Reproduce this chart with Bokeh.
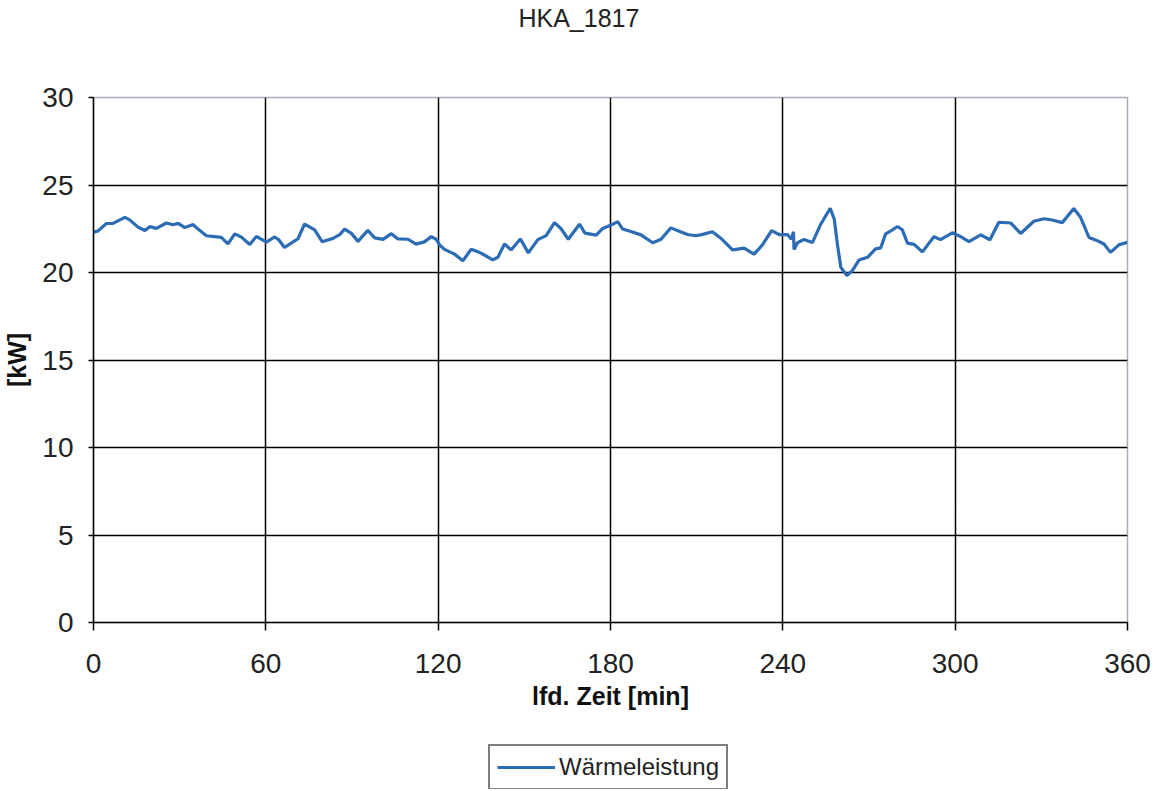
from bokeh.plotting import figure
from bokeh.models import Range1d, FixedTicker, Legend, LegendItem, LinearAxis, Spacer
from bokeh.layouts import column, row
from bokeh.embed import file_html
from bokeh.resources import INLINE

# ---- data ----
time_min = [0, 1.6, 4.5, 6.8, 10.9, 12.6, 15.5, 17.9, 19.6, 21.9, 25.4, 27.7, 29.5, 31.8, 34.7, 36.4,
            39.3, 42.2, 44.5, 46.8, 49.2, 51.5, 54.4, 56.7, 60.2, 63.1, 64.5, 66.5, 69.5, 71.2, 73.5,
            77.0, 79.6, 83.4, 85.7, 87.4, 89.7, 92.1, 95.5, 97.9, 100.8, 103.7, 106.0, 109.5, 112.3,
            115.2, 117.6, 119.3, 120.5, 122.2, 125.7, 128.6, 131.5, 133.8, 136.1, 139.0, 140.8, 143.1,
            145.4, 148.6, 151.4, 154.7, 157.6, 160.5, 162.8, 165.3, 169.2, 171.1, 175.0, 177.3, 180.2,
            182.5, 184.2, 187.1, 190.6, 194.7, 197.6, 201.0, 203.9, 206.8, 209.7, 212.1, 215.5, 218.4,
            222.5, 226.5, 230.0, 232.9, 236.1, 238.7, 241.6, 243.0, 243.7, 243.9, 245.1, 247.4, 250.3,
            253.2, 256.5, 257.9, 259.0, 260.2, 262.3, 264.2, 266.5, 269.5, 272.3, 274.1, 275.8, 278.2,
            279.9, 281.6, 283.4, 285.7, 288.6, 292.6, 294.9, 299.0, 301.9, 304.8, 308.9, 312.1, 315.2,
            319.3, 322.8, 327.4, 330.9, 333.8, 337.3, 341.3, 343.7, 346.6, 349.5, 351.8, 354.1, 357.0,
            360.0]
waermeleistung_kw = [22.3, 22.38, 22.8, 22.81, 23.15, 23.01, 22.59, 22.4, 22.62, 22.52, 22.83, 22.73,
                     22.81, 22.57, 22.74, 22.48, 22.1, 22.05, 22.01, 21.63, 22.21, 22.02, 21.6, 22.06,
                     21.74, 22.03, 21.87, 21.43, 21.75, 21.93, 22.77, 22.43, 21.76, 21.95, 22.16, 22.48,
                     22.25, 21.78, 22.41, 21.98, 21.89, 22.22, 21.92, 21.9, 21.62, 21.75, 22.05, 21.9,
                     21.57, 21.32, 21.05, 20.67, 21.33, 21.19, 21.0, 20.72, 20.87, 21.63, 21.29, 21.92,
                     21.12, 21.88, 22.11, 22.85, 22.5, 21.9, 22.76, 22.25, 22.14, 22.52, 22.71, 22.91,
                     22.49, 22.34, 22.15, 21.7, 21.9, 22.55, 22.36, 22.17, 22.1, 22.18, 22.33, 21.96,
                     21.29, 21.39, 21.05, 21.58, 22.39, 22.17, 22.17, 21.9, 22.33, 21.32, 21.7, 21.89,
                     21.71, 22.76, 23.67, 23.05, 21.62, 20.29, 19.82, 20.11, 20.71, 20.87, 21.35, 21.41,
                     22.21, 22.44, 22.63, 22.44, 21.68, 21.61, 21.18, 22.04, 21.88, 22.27, 22.05, 21.77,
                     22.15, 21.87, 22.87, 22.83, 22.23, 22.93, 23.07, 23.0, 22.85, 23.66, 23.14, 22.0,
                     21.82, 21.63, 21.15, 21.58, 21.73]

x_ticks = [0, 60, 120, 180, 240, 300, 360]
y_ticks = [0, 5, 10, 15, 20, 25, 30]
title_text = "HKA_1817"
title_pos_min = 169          # horizontal centre of the title, in x-axis units
x_label = "lfd. Zeit [min]"
y_label = "[kW]"
series_name = "Wärmeleistung"

SANS = "Liberation Sans"
LINE_COLOR = "#2b6cb5"

p = figure(width=1160, height=720, output_backend="svg", toolbar_location=None,
           x_range=Range1d(0, 360), y_range=Range1d(0, 30),
           min_border_left=92, min_border_right=33, min_border_top=96, min_border_bottom=98)
p.title.text = ""

p.background_fill_color = "white"
p.border_fill_color = "white"
p.outline_line_color = "#a9adb8"
p.outline_line_width = 1.5

line = p.line(time_min, waermeleistung_kw, line_color=LINE_COLOR, line_width=3.2)

# axes
for ax in (p.xaxis[0], p.yaxis[0]):
    ax.axis_line_color = "black"
    ax.axis_line_width = 1.5
    ax.major_tick_line_color = "black"
    ax.major_tick_line_width = 1.5
    ax.major_tick_in = 0
    ax.minor_tick_line_color = None
    ax.major_label_text_font = SANS
    ax.major_label_text_font_size = "28px"
    ax.major_label_text_color = "#222222"
    ax.axis_label_text_font = SANS
    ax.axis_label_text_font_style = "bold"
    ax.axis_label_text_font_size = "25px"
    ax.axis_label_text_color = "#111111"

p.xaxis.ticker = FixedTicker(ticks=x_ticks)
p.yaxis.ticker = FixedTicker(ticks=y_ticks)
p.xaxis.major_tick_out = 8
p.yaxis.major_tick_out = 5
p.xaxis.major_label_standoff = 23
p.yaxis.major_label_standoff = 15
p.xaxis.axis_label = x_label
p.yaxis.axis_label = y_label
p.xaxis.axis_label_standoff = 6
p.yaxis.axis_label_standoff = 8

# chart title: single label of a line-less axis above the frame
title_axis = LinearAxis(ticker=FixedTicker(ticks=[title_pos_min]),
                        major_label_overrides={title_pos_min: title_text},
                        axis_line_color=None, major_tick_line_color=None,
                        minor_tick_line_color=None, major_tick_out=0, major_tick_in=0,
                        major_label_standoff=66,
                        major_label_text_font=SANS, major_label_text_font_size="25px",
                        major_label_text_color="#222222")
p.add_layout(title_axis, "above")

# grid
p.xgrid.ticker = FixedTicker(ticks=x_ticks[1:-1])
p.ygrid.ticker = FixedTicker(ticks=y_ticks[1:-1])
p.xgrid.grid_line_color = "black"
p.ygrid.grid_line_color = "black"
p.xgrid.grid_line_width = 1.5
p.ygrid.grid_line_width = 1.5

# legend box below the chart (own small figure; proxy line lies outside its ranges)
lg = figure(width=250, height=46, output_backend="svg", toolbar_location=None,
            x_range=Range1d(0, 1), y_range=Range1d(0, 1),
            x_axis_type=None, y_axis_type=None, min_border=0)
lg.grid.visible = False
lg.outline_line_color = None
lg.background_fill_color = "white"
lg.border_fill_color = "white"
proxy = lg.line([5, 6], [5, 6], line_color=LINE_COLOR, line_width=3)
legend = Legend(items=[LegendItem(label=series_name, renderers=[proxy])],
                location="top_left", orientation="vertical",
                border_line_color="black", border_line_width=2,
                background_fill_color="white", background_fill_alpha=1.0,
                label_text_font=SANS, label_text_font_size="24px", label_text_color="#222222",
                glyph_width=58, glyph_height=20, label_standoff=4, padding=7, margin=1, spacing=0)
lg.add_layout(legend, "center")

layout = column(p, Spacer(height=23), row(Spacer(width=487), lg))

open("out.html", "w").write(file_html(layout, INLINE))
